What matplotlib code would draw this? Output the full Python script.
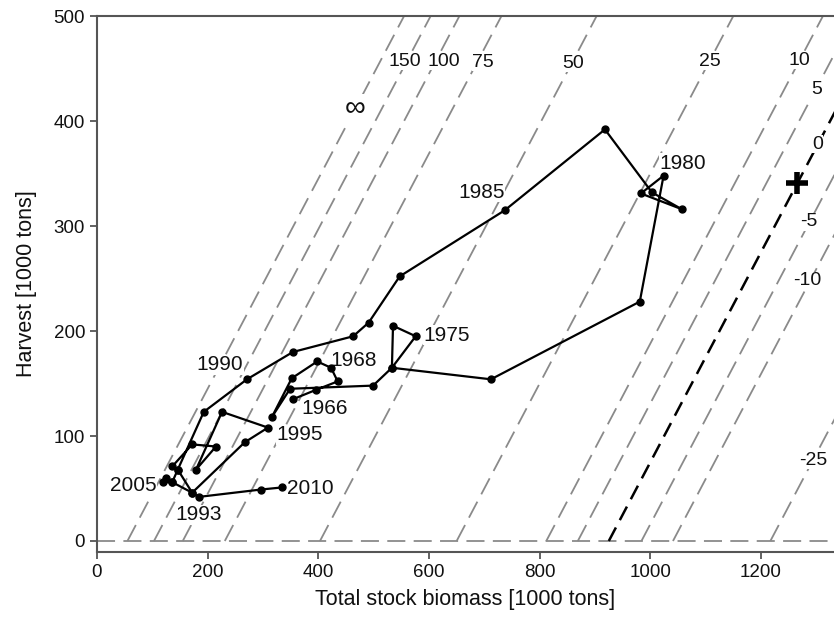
import matplotlib
matplotlib.use("Agg")
import matplotlib.pyplot as plt

plt.rcParams['font.family'] = ['Liberation Sans', 'DejaVu Sans']
plt.rcParams['lines.scale_dashes'] = False

# trajectory: total stock biomass vs harvest [1000 tons], in time order
biomass = [354, 396, 435, 423, 398, 352, 316, 349, 499, 533, 535, 576, 533,
           712, 981, 1024, 983, 1057, 1003, 918, 737, 547, 491, 463, 354, 271,
           193, 146, 172, 267, 309, 226, 179, 215, 172, 136, 146, 136, 125,
           119, 136, 172, 184, 296, 334]
harvest = [135, 144, 152, 165, 171, 155, 118, 145, 148, 165, 205, 195, 165,
           154, 228, 348, 331, 316, 332, 392, 315, 252, 208, 195, 180, 154,
           123, 68, 46, 94, 108, 123, 68, 90, 92, 71, 68, 56, 60,
           56, 56, 46, 42, 49, 51]

year_labels = ['1966', '1968', '1975', '1980', '1985', '1990', '1993', '1995', '2005', '2010']
year_x = [412, 463, 632, 1059, 695, 222, 183, 367, 65, 385]
year_y = [126, 172, 196, 360, 332, 168, 25, 101, 53, 50]

# isolines (harvest = biomass - intercept) and their labels
iso_labels = ['\u221e', '150', '100', '75', '50', '25', '10', '5', '0', '-5', '-10', '-25']
iso_intercept = [55, 103, 155, 231, 403, 650, 812, 869, 925, 984, 1041, 1217]
iso_label_x = [467, 556, 626, 697, 860, 1108, 1270, 1301, 1302, 1286, 1284, 1295]
iso_label_y = [412, 457, 457, 456, 455, 457, 458, 430, 378, 304, 248, 77]

msy_point = (1266, 341)

fig = plt.figure(figsize=(8.34, 6.19), dpi=100)
ax = fig.add_axes([0.1163, 0.1082, 0.8837, 0.8659])

gray = '#8a8a8a'
ax.axhline(0, color=gray, lw=1.3, dashes=(13, 6), zorder=1)
for lab, b0 in zip(iso_labels, iso_intercept):
    if lab == '0':
        ax.plot([b0, b0 + 700], [0, 700], color='k', lw=1.8, dashes=(11, 6), zorder=1.5)
    else:
        ax.plot([b0, b0 + 700], [0, 700], color=gray, lw=1.3, dashes=(13, 6), zorder=1)

for lab, lx, ly in zip(iso_labels, iso_label_x, iso_label_y):
    fs = 21 if lab == '\u221e' else 14
    ax.text(lx, ly, lab, fontsize=fs, ha='center', va='center', color='#111111',
            bbox=dict(facecolor='white', edgecolor='none', pad=0.2), zorder=2)

ax.plot(biomass, harvest, '-o', color='k', lw=1.6, ms=5, zorder=3)
ax.plot(*msy_point, marker='+', color='k', ms=16, mew=4, zorder=4)

for lab, x, y in zip(year_labels, year_x, year_y):
    ax.text(x, y, lab, fontsize=15, ha='center', va='center', color='#111111',
            bbox=dict(facecolor='white', edgecolor='none', pad=0.3), zorder=2.5)

ax.set_xlim(0, 1332)
ax.set_ylim(-10.5, 500)
ax.set_xticks(range(0, 1201, 200))
ax.set_yticks(range(0, 501, 100))
ax.spines['right'].set_visible(False)
for s in ['left', 'bottom', 'top']:
    ax.spines[s].set_color('#555555')
    ax.spines[s].set_linewidth(1.5)
ax.tick_params(direction='out', length=5, width=1.3, color='#555555',
               labelsize=13.5, labelcolor='#111111')
ax.set_xlabel('Total stock biomass [1000 tons]', fontsize=15.5, color='#111111', labelpad=6)
ax.set_ylabel('Harvest [1000 tons]', fontsize=15.5, color='#111111', labelpad=12)

fig.savefig('out.png', dpi=100)
